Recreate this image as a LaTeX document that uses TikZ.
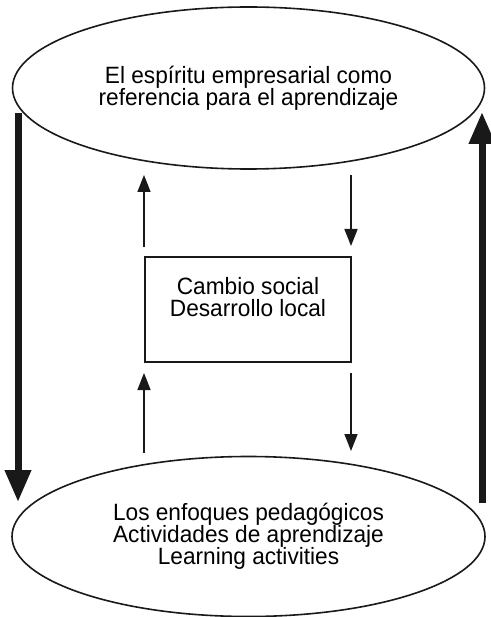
\documentclass[tikz,border=0pt]{standalone}
\usepackage{fontspec}
\setmainfont{Liberation Sans}[FakeStretch=0.96]
\usetikzlibrary{shapes.geometric,arrows.meta}
\begin{document}
\begin{tikzpicture}[x=1pt,y=-1pt,
  txt/.style={align=center,font=\fontsize{23.6}{22}\selectfont},
  oval/.style={txt,draw=black!90,line width=1.6pt,ellipse,inner sep=0pt},
  centerbox/.style={draw=black!90,line width=1.5pt,inner sep=0pt,minimum width=206pt,minimum height=105pt},
  bigarrow/.style={line width=7pt,black!90,-{Triangle[length=32pt,width=25pt]}},
  smallarrow/.style={line width=1.7pt,black!90,-{Triangle[length=17pt,width=13pt]}}]
\useasboundingbox (0,0) rectangle (490,617);
\node[oval,minimum width=472pt,minimum height=162pt] (top) at (248.5,88) {El espíritu empresarial como\\referencia para el aprendizaje};
\node[oval,minimum width=473pt,minimum height=160pt] (bot) at (248.5,536.5) {Los enfoques pedagógicos\\Actividades de aprendizaje\\Learning activities};
\node[centerbox] (box) at (248,309.5) {};
\node[txt] (boxtext) at (248,297) {Cambio social\\Desarrollo local};
\coordinate (l1) at (18,113);
\coordinate (l2) at (18,502);
\coordinate (r1) at (482,503);
\coordinate (r2) at (482,112);
\draw[bigarrow] (l1) -- (l2);
\draw[bigarrow] (r1) -- (r2);
\coordinate (a1) at (144,247);
\coordinate (a2) at (144,175);
\coordinate (a3) at (144,453);
\coordinate (a4) at (144,373);
\coordinate (b1) at (351,175);
\coordinate (b2) at (351,246);
\coordinate (b3) at (351,373);
\coordinate (b4) at (351,451);
\draw[smallarrow] (a1) -- (a2);
\draw[smallarrow] (a3) -- (a4);
\draw[smallarrow] (b1) -- (b2);
\draw[smallarrow] (b3) -- (b4);
\end{tikzpicture}
\end{document}
